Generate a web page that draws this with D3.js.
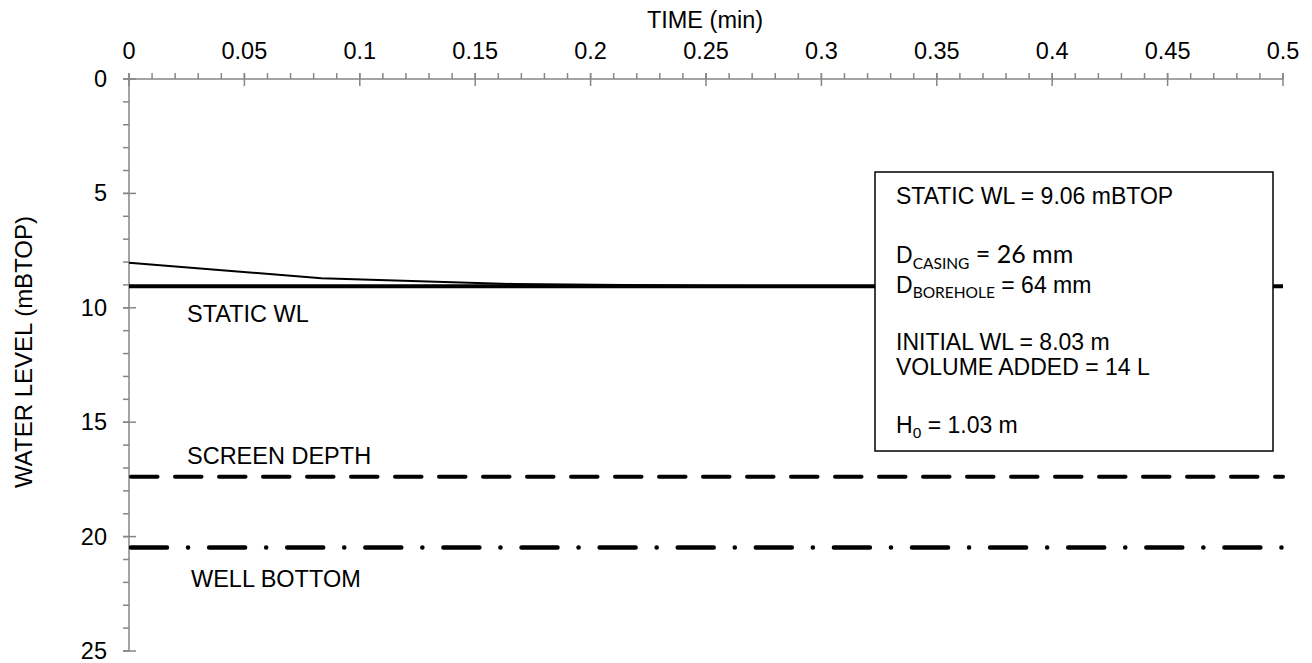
<!DOCTYPE html>
<html><head><meta charset="utf-8">
<script src="https://cdn.jsdelivr.net/npm/d3@7"></script>
<style>
html,body{margin:0;padding:0;background:#fff;}
svg text{font-family:"Liberation Sans",Arial,sans-serif;fill:#000;}
</style></head>
<body><svg id="c" width="1312" height="663"></svg>
<script>
// ---- data ----
const timeMin = [0, 5/60, 10/60, 15/60, 20/60, 25/60, 30/60];
const waterLevel = [8.03, 8.71, 8.96, 9.04, 9.05, 9.06, 9.06];
const staticWL = 9.06;
const screenDepth = 17.38;
const wellBottom = 20.48;
const xTicks = [0, 0.05, 0.1, 0.15, 0.2, 0.25, 0.3, 0.35, 0.4, 0.45, 0.5];
const yTicks = [0, 5, 10, 15, 20, 25];
const xTitle = "TIME (min)";
const yTitle = "WATER LEVEL (mBTOP)";

const svg = d3.select("#c");
const L = 129, R = 1283, T = 79, B = 651;
const x = d3.scaleLinear().domain([0, 0.5]).range([L, R]);
const y = d3.scaleLinear().domain([0, 25]).range([T, B]);
const axisCol = "#868686";
const FS = 23.5;

// minor ticks
const xMinor = d3.range(0, 0.5001, 0.01);
const yMinor = d3.range(0, 25.001, 1);
const g = svg.append("g");
g.selectAll(".xm").data(xMinor).join("line")
  .attr("x1", d => x(d)).attr("x2", d => x(d)).attr("y1", T - 6).attr("y2", T)
  .attr("stroke", axisCol).attr("stroke-width", 1.5);
g.selectAll(".ym").data(yMinor).join("line")
  .attr("x1", L - 6).attr("x2", L).attr("y1", d => y(d)).attr("y2", d => y(d))
  .attr("stroke", axisCol).attr("stroke-width", 1.5);
// major ticks crossing
g.selectAll(".xM").data(xTicks).join("line")
  .attr("x1", d => x(d)).attr("x2", d => x(d)).attr("y1", T - 6).attr("y2", T + 7)
  .attr("stroke", axisCol).attr("stroke-width", 1.5);
g.selectAll(".yM").data(yTicks).join("line")
  .attr("x1", L - 6).attr("x2", L + 7).attr("y1", d => y(d)).attr("y2", d => y(d))
  .attr("stroke", axisCol).attr("stroke-width", 1.5);
// axis lines
g.append("line").attr("x1", L).attr("x2", R).attr("y1", T).attr("y2", T).attr("stroke", axisCol).attr("stroke-width", 1.5);
g.append("line").attr("x1", L).attr("x2", L).attr("y1", T).attr("y2", B).attr("stroke", axisCol).attr("stroke-width", 1.5);

// tick labels
svg.selectAll(".xl").data(xTicks).join("text")
  .attr("x", d => x(d)).attr("y", 59).attr("text-anchor", "middle")
  .attr("font-size", FS).text(d => d3.format("~g")(d));
svg.selectAll(".yl").data(yTicks).join("text")
  .attr("x", 107).attr("y", d => y(d) + 8).attr("text-anchor", "end")
  .attr("font-size", FS).text(d => d);

// titles
svg.append("text").attr("x", 705).attr("y", 28).attr("text-anchor", "middle").attr("font-size", FS).text(xTitle);
svg.append("text").attr("transform", "translate(32,352) rotate(-90)").attr("text-anchor", "middle").attr("font-size", 24).text(yTitle);

// reference lines
svg.append("line").attr("x1", x(0)).attr("x2", x(0.5)).attr("y1", y(staticWL)).attr("y2", y(staticWL))
  .attr("stroke", "#000").attr("stroke-width", 4);
svg.append("line").attr("x1", x(0) + 2).attr("x2", x(0.5)).attr("y1", y(screenDepth)).attr("y2", y(screenDepth))
  .attr("stroke", "#000").attr("stroke-width", 4).attr("stroke-linecap", "round").attr("stroke-dasharray", "26.5,17.5");
svg.append("line").attr("x1", x(0) + 2).attr("x2", x(0.5)).attr("y1", y(wellBottom)).attr("y2", y(wellBottom))
  .attr("stroke", "#000").attr("stroke-width", 4.5).attr("stroke-linecap", "round").attr("stroke-dasharray", "36,21,0.1,21");

// data line
const line = d3.line().x((d, i) => x(timeMin[i])).y(d => y(d));
svg.append("path").datum(waterLevel).attr("d", line).attr("fill", "none").attr("stroke", "#000").attr("stroke-width", 2);

// line labels
svg.append("text").attr("x", 187).attr("y", 322).attr("font-size", FS).text("STATIC WL");
svg.append("text").attr("x", 187).attr("y", 464).attr("font-size", FS).text("SCREEN DEPTH");
svg.append("text").attr("x", 191).attr("y", 587).attr("font-size", FS).text("WELL BOTTOM");

// info box
svg.append("rect").attr("x", 875).attr("y", 172).attr("width", 398).attr("height", 279)
  .attr("fill", "#fff").attr("stroke", "#000").attr("stroke-width", 1.5);
const bx = 896;
const BFS = 23;
function addText(yy, parts) {
  const t = svg.append("text").attr("x", bx).attr("y", yy).attr("font-size", BFS);
  parts.forEach(p => {
    const ts = t.append("tspan").text(p.t);
    if (p.fs) ts.attr("font-size", p.fs);
    if (p.ff) ts.style("font-family", p.ff);
    if (p.dy) ts.attr("dy", p.dy);
  });
}
addText(204, [{t: "STATIC WL = 9.06 mBTOP"}]);
addText(263, [{t: "D"}, {t: "CASING", fs: 15.5, ff: "Lato", dy: 6}, {t: " = 26 mm", fs: 25, ff: "Lato", dy: -6}]);
addText(293, [{t: "D"}, {t: "BOREHOLE", fs: 15.5, ff: "Lato", dy: 5}, {t: " = 64 mm", dy: -5}]);
addText(350, [{t: "INITIAL WL = 8.03 m"}]);
addText(375, [{t: "VOLUME ADDED = 14 L"}]);
addText(433, [{t: "H"}, {t: "0", fs: 15.5, dy: 5}, {t: " = 1.03 m", dy: -5}]);
</script></body></html>
